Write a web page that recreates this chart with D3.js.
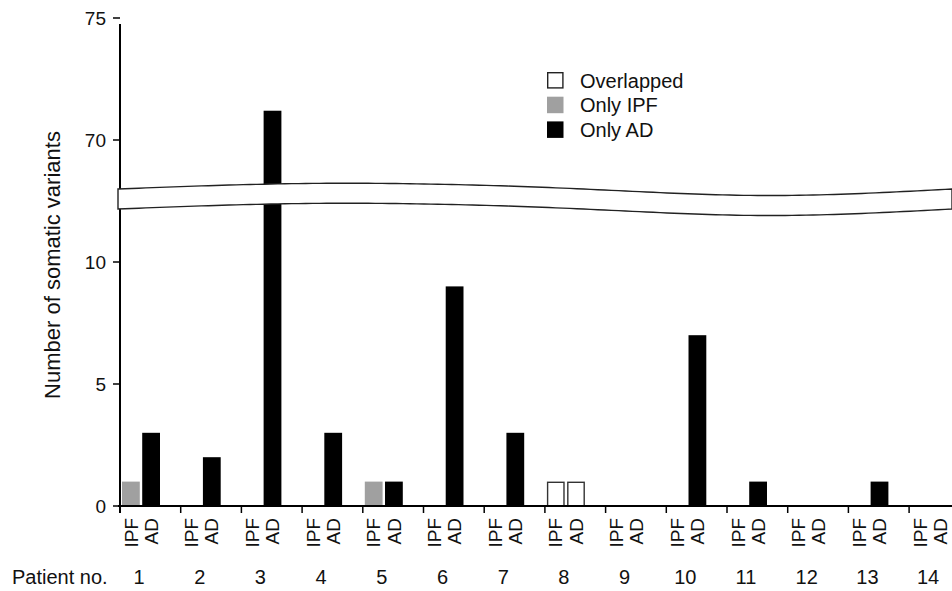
<!DOCTYPE html>
<html>
<head>
<meta charset="utf-8">
<script src="https://cdn.jsdelivr.net/npm/d3@7"></script>
<style>
  body { margin: 0; background: #fff; }
  svg { display: block; }
  text { font-family: "Liberation Sans", Arial, sans-serif; fill: #111; }
</style>
</head>
<body>
<svg id="chart" width="952" height="591"></svg>
<script>
// Patients and per-patient variant counts
var patients = ["1", "2", "3", "4", "5", "6", "7", "8", "9", "10", "11", "12", "13", "14"];
var columns = ["IPF", "AD"];
var overlapped = [0, 0, 0, 0, 0, 0, 0, 1, 0, 0, 0, 0, 0, 0];
var onlyIPF    = [1, 0, 0, 0, 1, 0, 0, 0, 0, 0, 0, 0, 0, 0];
var onlyAD     = [3, 2, 71.2, 3, 1, 9, 3, 0, 0, 7, 1, 0, 1, 0];
var lowTicks = [0, 5, 10];
var highTicks = [70, 75];
var legendItems = ["Overlapped", "Only IPF", "Only AD"];

var colors = { overlapped: "#ffffff", ipf: "#a0a0a0", ad: "#000000" };

var svg = d3.select("#chart");

// broken y axis: 0-10 below the break, 65-75 above it
var yLow = d3.scaleLinear().domain([0, 10]).range([506, 262]);
var yHigh = d3.scaleLinear().domain([65, 75]).range([262, 18]);
function y(v) { return v <= 10 ? yLow(v) : yHigh(v); }

var x0 = d3.scaleBand().domain(patients).range([120, 120 + 14 * 60.7]).padding(0);
var x1 = d3.scaleBand().domain(columns).range([2, 40]).paddingInner(0.12);

// bars
var g = svg.append("g");
patients.forEach(function(p, i) {
   var segs = [
      { col: "IPF", base: 0, val: overlapped[i], fill: colors.overlapped, stroke: true },
      { col: "AD", base: 0, val: overlapped[i], fill: colors.overlapped, stroke: true },
      { col: "IPF", base: overlapped[i], val: onlyIPF[i], fill: colors.ipf },
      { col: "AD", base: overlapped[i], val: onlyAD[i], fill: colors.ad }
   ];
   segs.forEach(function(s) {
      if (!s.val) return;
      var top = y(s.base + s.val), bot = y(s.base);
      var r = g.append("rect")
         .attr("x", x0(p) + x1(s.col))
         .attr("y", top)
         .attr("width", x1.bandwidth())
         .attr("height", bot - top)
         .attr("fill", s.fill);
      if (s.stroke) {
         r.attr("x", x0(p) + x1(s.col) + 0.7)
          .attr("width", x1.bandwidth() - 1.4)
          .attr("y", top + 0.7)
          .attr("height", bot - top - 0.7)
          .attr("stroke", "#333").attr("stroke-width", 1.4);
      }
   });
});

// y axis
svg.append("line")
   .attr("x1", 120).attr("x2", 120)
   .attr("y1", yHigh(75) + 6).attr("y2", yLow(0) + 7)
   .attr("stroke", "#000").attr("stroke-width", 2);

function yTick(v, yy) {
   svg.append("line").attr("x1", 113).attr("x2", 120).attr("y1", yy).attr("y2", yy)
      .attr("stroke", "#000").attr("stroke-width", 1.5);
   svg.append("text").attr("x", 106).attr("y", yy).attr("dy", "0.35em")
      .attr("text-anchor", "end").attr("font-size", 19).text(v);
}
lowTicks.forEach(function(v) { yTick(v, yLow(v)); });
highTicks.forEach(function(v) { yTick(v, yHigh(v)); });

svg.append("text")
   .attr("transform", "translate(60,265) rotate(-90)")
   .attr("text-anchor", "middle").attr("font-size", 22)
   .text("Number of somatic variants");

// x axis
svg.append("line")
   .attr("x1", 118).attr("x2", 952)
   .attr("y1", yLow(0)).attr("y2", yLow(0))
   .attr("stroke", "#000").attr("stroke-width", 2);

patients.forEach(function(p) {
   var gx = x0(p);
   svg.append("line").attr("x1", gx).attr("x2", gx)
      .attr("y1", yLow(0)).attr("y2", yLow(0) + 7)
      .attr("stroke", "#000").attr("stroke-width", 1.5);
   columns.forEach(function(c) {
      var cx = gx + x1(c) + x1.bandwidth() / 2;
      svg.append("text")
         .attr("transform", "translate(" + cx + "," + (yLow(0) + 12) + ") rotate(-90)")
         .attr("dy", "0.35em")
         .attr("text-anchor", "end").attr("font-size", 19)
         .text(c);
   });
   svg.append("text")
      .attr("x", gx + 19).attr("y", 584)
      .attr("text-anchor", "middle").attr("font-size", 20)
      .text(p);
});

svg.append("text").attr("x", 12).attr("y", 584).attr("font-size", 20).text("Patient no.");

// axis break band (wavy white strip)
var wave = [[118, 189], [330, 183.3], [560, 188], [760, 195.5], [952, 189]];
var line = d3.line().curve(d3.curveNatural);
var topPts = wave.map(function(d) { return [d[0], d[1]]; });
var botPts = wave.map(function(d) { return [d[0], d[1] + 20]; }).reverse();
var tmp = svg.append("path").attr("d", line(topPts)).attr("fill", "none");
var topLen = tmp.node().getTotalLength();
var pts = [];
for (var k = 0; k <= 120; k++) {
   var pt = tmp.node().getPointAtLength(topLen * k / 120);
   pts.push([pt.x, pt.y]);
}
tmp.remove();
var band = pts.concat(pts.slice().reverse().map(function(d) { return [d[0], d[1] + 20]; }));
svg.append("path")
   .attr("d", "M" + band.map(function(d) { return d[0] + "," + d[1]; }).join("L") + "Z")
   .attr("fill", "#fff").attr("stroke", "#222").attr("stroke-width", 1.4);

// legend
var leg = svg.append("g").attr("transform", "translate(547,72)");
legendItems.forEach(function(name, i) {
   var fill = i === 0 ? colors.overlapped : i === 1 ? colors.ipf : colors.ad;
   var r = leg.append("rect")
      .attr("x", 0).attr("y", i * 24.7)
      .attr("width", 16.5).attr("height", 16.5)
      .attr("fill", fill);
   if (i === 0) {
      r.attr("x", 0.7).attr("y", 0.7).attr("width", 15.2).attr("height", 15.2)
       .attr("stroke", "#222").attr("stroke-width", 1.4);
   }
   leg.append("text")
      .attr("x", 33).attr("y", i * 24.7 + 15.5)
      .attr("font-size", 20)
      .text(name);
});
</script>
</body>
</html>
